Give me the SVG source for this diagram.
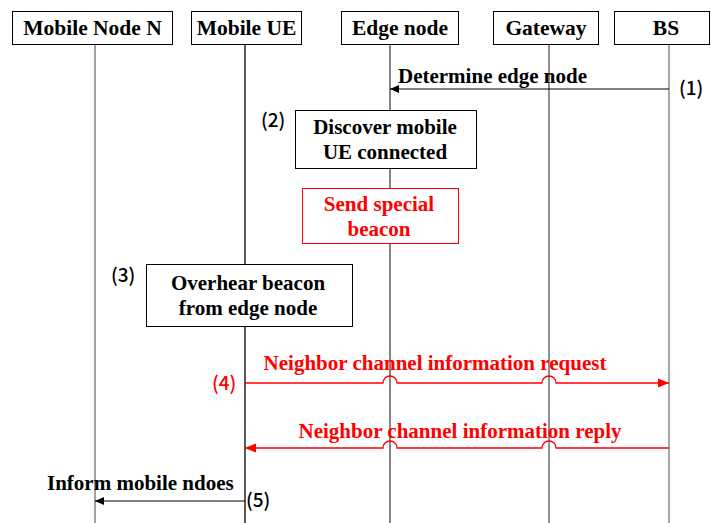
<svg xmlns="http://www.w3.org/2000/svg" width="711" height="523" viewBox="0 0 711 523">
  <style>
    .bg { fill: #ffffff; }
    .hdr { fill: #ffffff; stroke: #000000; stroke-width: 1; }
    .hdr-t { font-family: "Liberation Serif", "Times New Roman", serif; font-weight: bold; font-size: 21.5px; fill: #000000; text-anchor: middle; }
    .life { stroke-width: 1.3; fill: none; }
    .box { fill: #ffffff; stroke: #000000; stroke-width: 1; }
    .box-red { fill: #ffffff; stroke: #ff0000; stroke-width: 1; }
    .t { font-family: "Liberation Serif", "Times New Roman", serif; font-weight: bold; font-size: 21px; fill: #000000; }
    .t-red { font-family: "Liberation Serif", "Times New Roman", serif; font-weight: bold; font-size: 21px; fill: #ff0000; }
    .num { font-family: "Noto Sans CJK SC", "DejaVu Sans", sans-serif; font-weight: 500; font-size: 19px; fill: #000000; }
    .num-red { font-family: "Noto Sans CJK SC", "DejaVu Sans", sans-serif; font-weight: 500; font-size: 19px; fill: #ff0000; }
    .msg { stroke: #000000; stroke-width: 1.2; fill: none; }
    .msg-red { stroke: #ff0000; stroke-width: 1.3; fill: none; }
  </style>
  <defs>
    <marker id="arrBlack" markerWidth="10" markerHeight="10" refX="9" refY="5" orient="auto" markerUnits="userSpaceOnUse">
      <path d="M0,1 L9,5 L0,9 Z" fill="#000000"/>
    </marker>
    <marker id="arrRed" markerWidth="12" markerHeight="12" refX="11" refY="6" orient="auto" markerUnits="userSpaceOnUse">
      <path d="M0,1.5 L11,6 L0,10.5 Z" fill="#ff0000"/>
    </marker>
  </defs>

  <rect class="bg" x="0" y="0" width="711" height="523"/>

  <!-- lifelines -->
  <g id="lifelines">
    <line class="life" x1="95" y1="45" x2="95" y2="523" stroke="#6e6e6e"/>
    <line class="life" x1="245" y1="45" x2="245" y2="523" stroke="#000000"/>
    <line class="life" x1="390" y1="45" x2="390" y2="523" stroke="#444444"/>
    <line class="life" x1="549" y1="45" x2="549" y2="523" stroke="#555555"/>
    <line class="life" x1="669" y1="45" x2="669" y2="523" stroke="#777777"/>
  </g>

  <!-- participants -->
  <g id="mobile-node-n">
    <rect class="hdr" x="12.5" y="11.5" width="160" height="33"/>
    <text class="hdr-t" x="92.5" y="35">Mobile Node N</text>
  </g>
  <g id="mobile-ue">
    <rect class="hdr" x="191.5" y="11.5" width="110" height="33"/>
    <text class="hdr-t" x="246.5" y="35">Mobile UE</text>
  </g>
  <g id="edge-node">
    <rect class="hdr" x="341.5" y="11.5" width="117" height="33"/>
    <text class="hdr-t" x="400" y="35">Edge node</text>
  </g>
  <g id="gateway">
    <rect class="hdr" x="493.5" y="11.5" width="105" height="33"/>
    <text class="hdr-t" x="546" y="35">Gateway</text>
  </g>
  <g id="bs">
    <rect class="hdr" x="614.5" y="11.5" width="95" height="33"/>
    <text class="hdr-t" x="666" y="35">BS</text>
  </g>

  <!-- activity boxes -->
  <g id="discover">
    <rect class="box" x="295.5" y="110.5" width="181" height="58"/>
    <text class="t" x="385" y="134" text-anchor="middle">Discover mobile</text>
    <text class="t" x="385" y="159" text-anchor="middle">UE connected</text>
  </g>
  <g id="send-beacon">
    <rect class="box-red" x="302.5" y="188.5" width="156" height="55"/>
    <text class="t-red" x="379" y="211" text-anchor="middle">Send special</text>
    <text class="t-red" x="379" y="236" text-anchor="middle">beacon</text>
  </g>
  <g id="overhear">
    <rect class="box" x="146.5" y="264.5" width="206" height="62"/>
    <text class="t" x="248" y="290" text-anchor="middle">Overhear beacon</text>
    <text class="t" x="248" y="315" text-anchor="middle">from edge node</text>
  </g>

  <!-- messages -->
  <g id="connectors">
    <line class="msg" x1="669" y1="89" x2="390" y2="89" marker-end="url(#arrBlack)"/>
    <path class="msg-red" d="M245,383 H383 A7,7 0 0 1 397,383 H542 A7,7 0 0 1 556,383 H669" marker-end="url(#arrRed)"/>
    <path class="msg-red" d="M669,448 H556 A7,7 0 0 0 542,448 H397 A7,7 0 0 0 383,448 H245" marker-end="url(#arrRed)"/>
    <line class="msg" x1="245" y1="501" x2="95" y2="501" marker-end="url(#arrBlack)"/>
  </g>

  <!-- message labels -->
  <g id="labels">
    <text class="t" x="398" y="83">Determine edge node</text>
    <text class="num" x="679" y="95">(1)</text>
    <text class="num" x="261" y="127">(2)</text>
    <text class="num" x="111" y="282">(3)</text>
    <text class="t-red" x="435" y="370" text-anchor="middle">Neighbor channel information request</text>
    <text class="num-red" x="212" y="390">(4)</text>
    <text class="t-red" x="460" y="438" text-anchor="middle">Neighbor channel information reply</text>
    <text class="t" x="47" y="490">Inform mobile ndoes</text>
    <text class="num" x="246" y="507">(5)</text>
  </g>
</svg>
